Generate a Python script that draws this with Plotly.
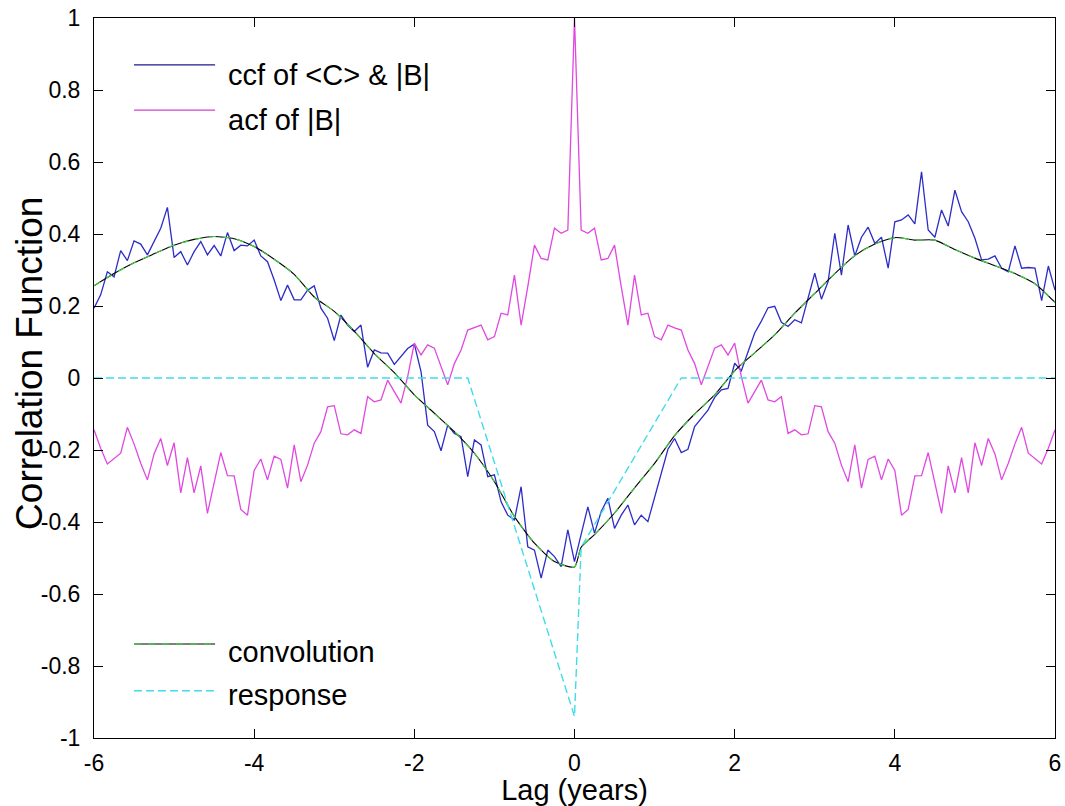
import plotly.graph_objects as go

# ---------------- data ----------------
lag_months = list(range(-72, 73))
lags = [m / 12 for m in lag_months]

ccf = [0.194, 0.231, 0.295, 0.281, 0.354, 0.326, 0.381, 0.372, 0.342, 0.379,
       0.416, 0.474, 0.335, 0.351, 0.314, 0.351, 0.379, 0.342, 0.368, 0.339,
       0.404, 0.354, 0.369, 0.367, 0.383, 0.339, 0.323, 0.272, 0.215, 0.258,
       0.217, 0.217, 0.244, 0.256, 0.194, 0.166, 0.104, 0.175, 0.147, 0.129,
       0.147, 0.030, 0.078, 0.070, 0.069, 0.038, 0.059, 0.082, 0.094, 0.018,
       -0.131, -0.149, -0.202, -0.131, -0.154, -0.163, -0.274, -0.172, -0.186, -0.274,
       -0.269, -0.344, -0.381, -0.394, -0.302, -0.469, -0.478, -0.556, -0.478, -0.496,
       -0.524, -0.422, -0.510, -0.431, -0.358, -0.431, -0.371, -0.334, -0.418, -0.381,
       -0.353, -0.408, -0.381, -0.399, -0.330, -0.260, -0.198, -0.168, -0.207, -0.198,
       -0.135, -0.112, -0.089, -0.054, -0.033, -0.029, 0.041, 0.020, 0.072, 0.125,
       0.158, 0.195, 0.199, 0.155, 0.143, 0.162, 0.153, 0.219, 0.291, 0.219,
       0.268, 0.402, 0.286, 0.425, 0.339, 0.391, 0.419, 0.374, 0.391, 0.305,
       0.434, 0.439, 0.453, 0.428, 0.573, 0.411, 0.391, 0.467, 0.422, 0.522,
       0.462, 0.434, 0.388, 0.328, 0.330, 0.339, 0.305, 0.295, 0.367, 0.305,
       0.307, 0.305, 0.215, 0.311, 0.244]

acf = [-0.144, -0.195, -0.239, -0.224, -0.209, -0.137, -0.183, -0.237, -0.283, -0.211,
       -0.168, -0.243, -0.180, -0.319, -0.221, -0.319, -0.244, -0.376, -0.288, -0.207,
       -0.271, -0.272, -0.365, -0.381, -0.257, -0.225, -0.283, -0.217, -0.226, -0.306,
       -0.186, -0.288, -0.242, -0.181, -0.149, -0.080, -0.077, -0.155, -0.158, -0.144,
       -0.154, -0.052, -0.066, -0.061, -0.006, -0.038, -0.070, 0.004, 0.097, 0.064,
       0.092, 0.083, 0.031, -0.019, 0.040, 0.078, 0.133, 0.139, 0.147, 0.106,
       0.115, 0.180, 0.175, 0.286, 0.147, 0.254, 0.369, 0.332, 0.328, 0.416,
       0.402, 0.411, 1.000, 0.411, 0.402, 0.416, 0.328, 0.332, 0.369, 0.254,
       0.147, 0.286, 0.175, 0.180, 0.115, 0.106, 0.147, 0.139, 0.133, 0.078,
       0.040, -0.019, 0.031, 0.083, 0.092, 0.064, 0.097, 0.004, -0.070, -0.038,
       -0.006, -0.061, -0.066, -0.052, -0.154, -0.144, -0.158, -0.155, -0.077, -0.080,
       -0.149, -0.181, -0.242, -0.288, -0.186, -0.306, -0.226, -0.217, -0.283, -0.225,
       -0.257, -0.381, -0.365, -0.272, -0.271, -0.207, -0.288, -0.376, -0.244, -0.319,
       -0.221, -0.319, -0.180, -0.243, -0.168, -0.211, -0.283, -0.237, -0.183, -0.137,
       -0.209, -0.224, -0.239, -0.195, -0.144]

conv_x = [-6, -5.75, -5.5, -5.25, -5, -4.75, -4.5, -4.25, -4, -3.75, -3.5, -3.25,
          -3, -2.75, -2.5, -2.25, -2, -1.75, -1.5, -1.25, -1, -0.75, -0.5, -0.25,
          0, 0.083, 0.25, 0.5, 0.75, 1, 1.25, 1.5, 1.75, 2, 2.25, 2.5, 2.75, 3,
          3.25, 3.5, 3.75, 4, 4.25, 4.5, 4.75, 5, 5.25, 5.5, 5.75, 6]
conv_y = [0.256, 0.290, 0.320, 0.345, 0.369, 0.385, 0.393, 0.387, 0.365, 0.330, 0.288, 0.225,
          0.185, 0.130, 0.068, 0.015, -0.047, -0.098, -0.149, -0.209, -0.288, -0.385, -0.459, -0.510,
          -0.525, -0.470, -0.435, -0.375, -0.305, -0.237, -0.160, -0.100, -0.047, 0.020, 0.070, 0.120,
          0.180, 0.235, 0.290, 0.340, 0.372, 0.390, 0.383, 0.383, 0.357, 0.333, 0.312, 0.290,
          0.262, 0.210]

resp_x = [-6, -1.333, 0, 0.083, 1.333, 6]
resp_y = [0, 0, -0.94, -0.47, 0, 0]

x_ticks = [-6, -4, -2, 0, 2, 4, 6]
x_tick_text = ["-6", "-4", "-2", "0", "2", "4", "6"]
y_ticks = [-1, -0.8, -0.6, -0.4, -0.2, 0, 0.2, 0.4, 0.6, 0.8, 1]
y_tick_text = ["-1", "-0.8", "-0.6", "-0.4", "-0.2", "0", "0.2", "0.4", "0.6", "0.8", "1"]

# ---------------- styles ----------------
C_CCF = "#2c2cc8"
C_ACF = "#e048e0"
C_RESP = "#40dde8"
C_GREEN = "#44d044"
FONT = "Liberation Sans, Arial, sans-serif"
LW = 1.3

fig = go.Figure()
fig.add_trace(go.Scatter(x=lags, y=ccf, mode="lines", name="ccf of <C> & |B|",
                         line=dict(color=C_CCF, width=LW)))
fig.add_trace(go.Scatter(x=lags, y=acf, mode="lines", name="acf of |B|",
                         line=dict(color=C_ACF, width=LW)))
fig.add_trace(go.Scatter(x=conv_x, y=conv_y, mode="lines", name="convolution",
                         line=dict(color="black", width=1.1, shape="spline", smoothing=0.6)))
fig.add_trace(go.Scatter(x=conv_x, y=conv_y, mode="lines", name="convolution (overlay)",
                         line=dict(color=C_GREEN, width=1.2, dash="7px,7px", shape="spline", smoothing=0.6)))
fig.add_trace(go.Scatter(x=resp_x, y=resp_y, mode="lines", name="response",
                         line=dict(color=C_RESP, width=1.4, dash="8px,4px")))

# ---------------- manual legends (MATLAB style, no box) ----------------
leg = [
    ("ccf of &lt;C&gt; &amp; |B|", 0.935, 0.921, [dict(color="#1a1a90", width=1.2)]),
    ("acf of |B|", 0.872, 0.858, [dict(color="#d040d0", width=1.2)]),
    ("convolution", 0.1306, 0.119, [dict(color="black", width=1.1),
                                    dict(color=C_GREEN, width=1.2, dash="7px,7px")]),
    ("response", 0.0657, 0.060, [dict(color=C_RESP, width=1.4, dash="8px,4px")]),
]
for text, ly, ty, lines in leg:
    for ln in lines:
        fig.add_shape(type="line", xref="paper", yref="paper",
                      x0=0.0416, x1=0.126, y0=ly, y1=ly, line=ln)
    fig.add_annotation(x=0.137, y=ty, xref="paper", yref="paper", text=text,
                       showarrow=False, xanchor="left", yanchor="middle",
                       font=dict(family=FONT, size=29, color="black"))

# y-axis title placed like MATLAB's (close to the tick labels)
fig.add_annotation(x=-0.0666, y=0.521, xref="paper", yref="paper",
                   text="Correlation Function", textangle=-90, showarrow=False,
                   xanchor="center", yanchor="middle",
                   font=dict(family=FONT, size=37, color="black"))

axis_common = dict(showline=True, linecolor="black", linewidth=1, mirror="ticks",
                   ticks="inside", ticklen=9, tickcolor="black", showgrid=False,
                   zeroline=False, automargin=False,
                   tickfont=dict(family=FONT, size=23, color="black"))

fig.update_layout(
    width=1065, height=806,
    margin=dict(l=94, r=10, t=18, b=68),
    paper_bgcolor="white", plot_bgcolor="white",
    showlegend=False,
    xaxis=dict(range=[-6, 6], tickvals=x_ticks, ticktext=x_tick_text,
               title=dict(text="Lag (years)", font=dict(family=FONT, size=29, color="black"), standoff=2),
               ticklabelstandoff=4, **axis_common),
    yaxis=dict(range=[-1, 1], tickvals=y_ticks, ticktext=y_tick_text,
               ticklabelstandoff=8, **axis_common),
)

fig.write_html("out.html", config={"displayModeBar": False},
               post_script="document.body.style.margin='0px';document.body.style.overflow='hidden';")
